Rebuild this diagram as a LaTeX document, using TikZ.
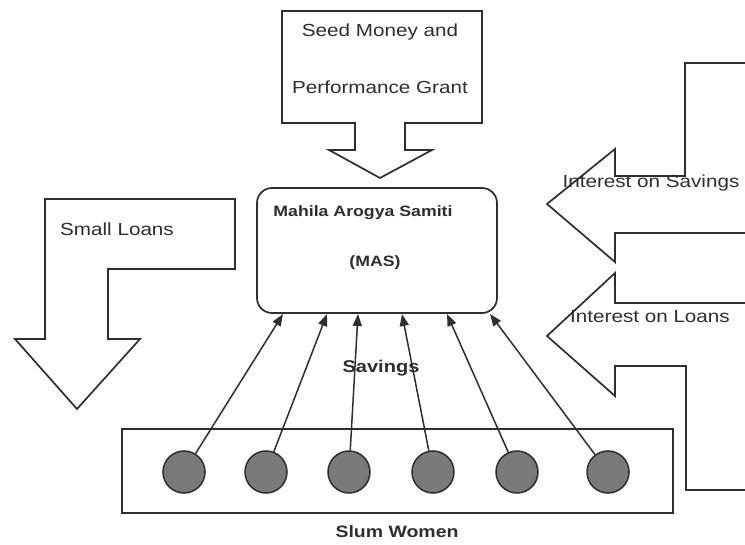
\documentclass[tikz,border=0pt]{standalone}
\usepackage{fontspec}
\setmainfont[FakeStretch=1.18]{Liberation Sans}
\usetikzlibrary{arrows.meta}
\definecolor{ink}{HTML}{2E2E2E}
\definecolor{dot}{HTML}{7A7A7A}
\tikzset{
  bigarrow/.style={draw=ink, line width=1.7pt, fill=white, line join=miter},
  lbl/.style={text=ink, font=\fontsize{17.5}{20}\selectfont, inner sep=0pt},
  blbl/.style={text=ink, font=\fontsize{15}{18}\bfseries\selectfont, inner sep=0pt},
  woman/.style={circle, draw=ink, line width=1.5pt, fill=dot, minimum size=42pt, inner sep=0pt},
  flow/.style={draw=ink, line width=1.5pt, -{Triangle[length=12pt,width=9pt]}}
}
\begin{document}
\begin{tikzpicture}[x=1pt,y=-1pt]
\clip (0,0) rectangle (745,545);
\fill[white] (0,0) rectangle (745,545);
% Seed money arrow
\draw[bigarrow] (282,11) -- (482,11) -- (482,123) -- (405,123) -- (405,150) -- (432,150)
  -- (380,178) -- (329,150) -- (355,150) -- (355,123) -- (282,123) -- cycle;
\node[lbl] (seed1) at (380,32) {Seed Money and};
\node[lbl] (seed2) at (380,87) {Performance Grant};
% Small loans arrow
\draw[bigarrow] (45,199) -- (235,199) -- (235,269) -- (108,269) -- (108,339) -- (140,339)
  -- (77,409) -- (15,339) -- (45,339) -- cycle;
\node[lbl, anchor=west] (loans) at (60,229) {Small Loans};
% Interest on savings arrow
\draw[bigarrow] (760,63) -- (685,63) -- (685,176) -- (615,176) -- (615,149) -- (547,204)
  -- (615,262) -- (615,233) -- (760,233);
\node[lbl] (intsav) at (651,183) {Interest on Savings};
% Interest on loans arrow
\draw[bigarrow] (760,303) -- (615,303) -- (615,273) -- (547,336) -- (615,396) -- (615,366)
  -- (686,366) -- (686,490) -- (760,490);
\node[lbl] (intloan) at (650,317) {Interest on Loans};
% MAS box
\node[draw=ink, line width=1.7pt, rounded corners=15pt, minimum width=240pt, minimum height=125pt, inner sep=0pt] (mas) at (377,250.5) {};
\node[blbl] (mas1) at (363,213) {Mahila Arogya Samiti};
\node[blbl] (mas2) at (375,263) {(MAS)};
% Slum women box
\node[draw=ink, line width=1.7pt, minimum width=551pt, minimum height=84pt, inner sep=0pt] (slum) at (397.5,471) {};
\foreach \i/\x in {1/184,2/266,3/349,4/433,5/517,6/608}{
  \node[woman] (w\i) at (\x,472) {};
}
\coordinate (t1) at (283,314);
\coordinate (t2) at (327,314);
\coordinate (t3) at (358,314);
\coordinate (t4) at (402,314);
\coordinate (t5) at (447,314);
\coordinate (t6) at (490,314);
\foreach \i in {1,...,6}{
  \draw[flow] (w\i) -- (t\i);
}
\node[text=ink, font=\fontsize{17}{20}\bfseries\selectfont, inner sep=0pt] (sav) at (381,368) {Savings};
\node[text=ink, font=\fontsize{16.5}{20}\bfseries\selectfont, inner sep=0pt] (slumlbl) at (397,532) {Slum Women};
\end{tikzpicture}
\end{document}
